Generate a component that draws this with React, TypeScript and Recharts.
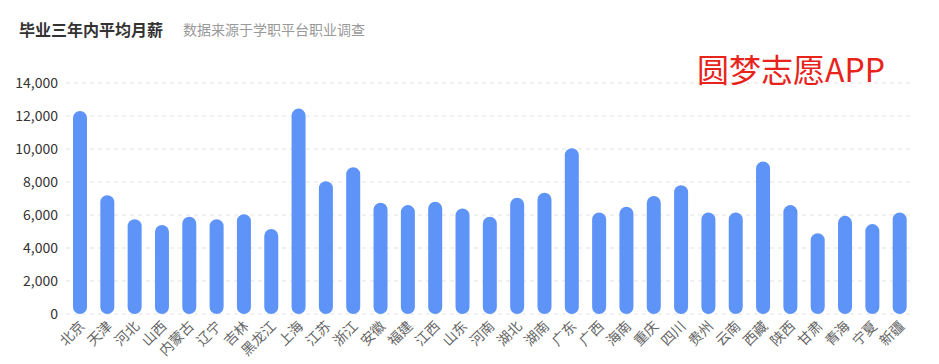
import { BarChart, Bar, XAxis, YAxis, CartesianGrid } from "recharts";

const provinces = [
  "北京", "天津", "河北", "山西", "内蒙古", "辽宁", "吉林", "黑龙江", "上海", "江苏",
  "浙江", "安徽", "福建", "江西", "山东", "河南", "湖北", "湖南", "广东", "广西",
  "海南", "重庆", "四川", "贵州", "云南", "西藏", "陕西", "甘肃", "青海", "宁夏", "新疆",
];

const salaries = [
  12300, 7200, 5750, 5400, 5900, 5750, 6050, 5150, 12450, 8050,
  8900, 6750, 6600, 6800, 6400, 5900, 7050, 7350, 10050, 6150,
  6500, 7150, 7800, 6150, 6150, 9250, 6600, 4900, 5950, 5450, 6150,
];

const yTicks = [0, 2000, 4000, 6000, 8000, 10000, 12000, 14000];

const data = provinces.map((name, i) => ({ name, salary: salaries[i] }));

const FONT = '"Noto Sans CJK SC", "Noto Sans", sans-serif';

const AngledTick = ({ x, y, payload }: any) => (
  <g transform={`translate(${x},${y})`}>
    <text
      x={6}
      y={13}
      textAnchor="end"
      transform="rotate(-45 6 13)"
      fill="#666"
      fontSize={14}
      fontFamily={FONT}
    >
      {payload.value}
    </text>
  </g>
);

export default function App() {
  return (
    <div
      style={{
        position: "absolute",
        left: 0,
        top: 0,
        width: 939,
        height: 364,
        background: "#fff",
        fontFamily: FONT,
      }}
    >
      <div style={{ position: "absolute", left: 19, top: 19, fontSize: 16, fontWeight: 700, color: "#333", lineHeight: "20px" }}>
        毕业三年内平均月薪
      </div>
      <div style={{ position: "absolute", left: 183, top: 20, fontSize: 14, color: "#999", lineHeight: "18px" }}>
        数据来源于学职平台职业调查
      </div>
      <BarChart
        width={939}
        height={364}
        data={data}
        margin={{ top: 83, right: 26, bottom: 10, left: 0 }}
      >
        <CartesianGrid vertical={false} stroke="#e3e3e3" strokeDasharray="4 4" />
        <XAxis
          dataKey="name"
          interval={0}
          axisLine={false}
          tickLine={false}
          tickSize={0}
          tickMargin={0}
          height={40}
          tick={<AngledTick />}
        />
        <YAxis
          width={66}
          domain={[0, 14000]}
          ticks={yTicks}
          axisLine={false}
          tickLine={false}
          tick={{ fill: "#333", fontSize: 14, fontFamily: FONT }}
          tickFormatter={(v: number) => v.toLocaleString("en-US")}
        />
        <Bar dataKey="salary" fill="#5e94f8" barSize={14} radius={[7, 7, 7, 7]} isAnimationActive={false} />
      </BarChart>
      <div style={{ position: "absolute", left: 697, top: 52, fontSize: 32, color: "#e8231b", lineHeight: "33px", pointerEvents: "none" }}>
        圆梦志愿APP
      </div>
    </div>
  );
}
